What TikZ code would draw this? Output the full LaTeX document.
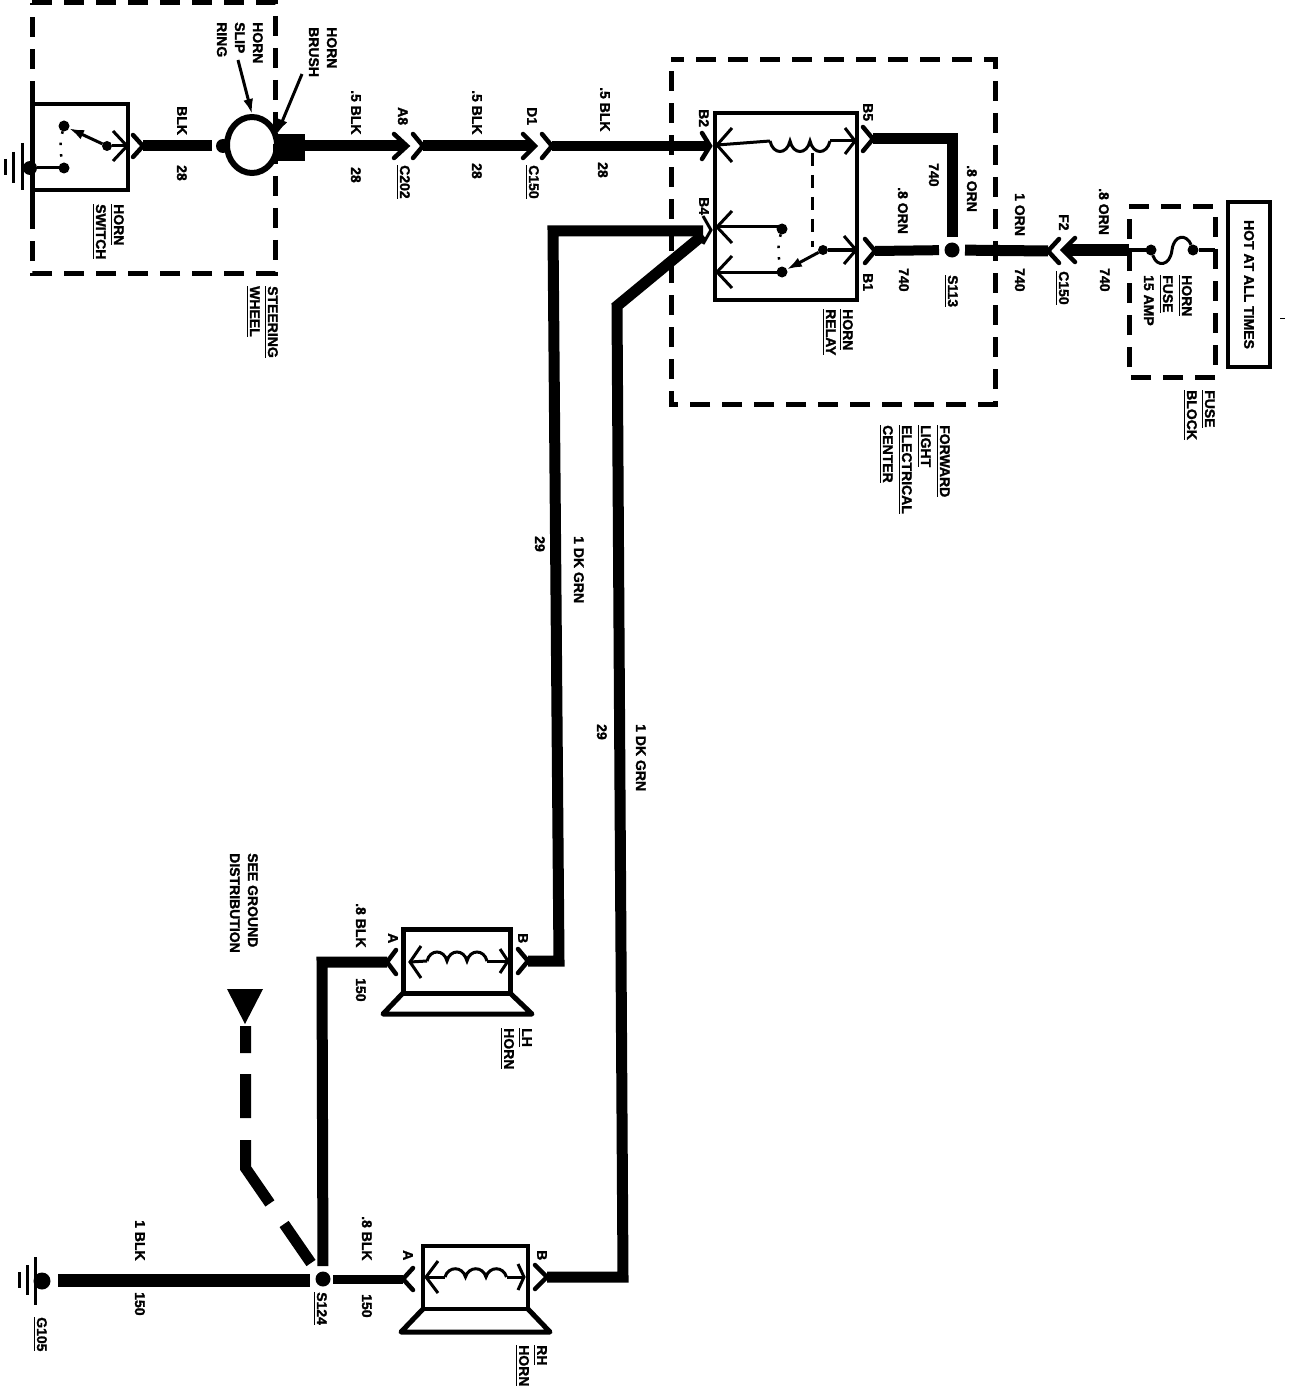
\documentclass[tikz,border=0pt]{standalone}
\usepackage{fontspec}
\setmainfont[BoldFeatures={FakeBold=1.6}]{Liberation Sans}
\usetikzlibrary{arrows.meta,shapes.geometric}
\tikzset{>={Latex[length=15pt,width=10pt]}}
% underlined label text
\newcommand{\ulbl}[1]{\setbox0\hbox{#1}\rlap{\rule[-3.5pt]{\wd0}{1.8pt}}\box0}
% two strokes meeting in a point: (name) (dx) (dy)
\newcommand{\prongs}[4][prong]{\draw[#1] ([shift={(#3,-#4)}]#2) -- (#2) -- ([shift={(#3,#4)}]#2);}
% three bumps of a coil: (start) (bump width) (bump depth)
\newcommand{\coil}[3]{\draw[thinwire] (#1) .. controls +(3,#3) and +(-3,#3) .. ++(#2,0)
    .. controls +(3,#3) and +(-3,#3) .. ++(#2,0)
    .. controls +(3,#3) and +(-3,#3) .. ++(#2,0);}
\begin{document}
\begin{tikzpicture}[x=1pt,y=-1pt]
    \tikzstyle{lbl}=[rotate=-90, anchor=north west, inner sep=0pt, align=left, font=\bfseries\fontsize{14}{18}\selectfont]
    \tikzstyle{wire}=[black, line width=11pt]
    \tikzstyle{thinwire}=[black, line width=3pt]
    \tikzstyle{prong}=[black, line width=4.5pt, line cap=round]
    \tikzstyle{tip}=[black, line width=3pt]
    \tikzstyle{box}=[draw=black, line width=4pt, rectangle, inner sep=0pt, outer sep=0pt]
    \tikzstyle{dashbox}=[black, line width=5pt, dash pattern=on 20pt off 12pt]
    \tikzstyle{dot}=[circle, fill=black, inner sep=0pt, outer sep=0pt, minimum size=11pt]
    \tikzstyle{splice}=[circle, fill=black, inner sep=0pt, outer sep=5.5pt, minimum size=15pt]
    \tikzstyle{bar}=[black, line width=3pt]
    \tikzstyle{dotline}=[black, line width=2.5pt, dash pattern=on 2.5pt off 9pt, bend right=14]
    \useasboundingbox (0,0) rectangle (1312,1388);

    % steering wheel
    \coordinate (wheelnw) at (32,3);
    \coordinate (wheelse) at (275,273);
    \draw[dashbox] (wheelnw) -| (wheelse) -| (wheelnw);
    \node[box, minimum width=96pt, minimum height=86pt] (switch) at (80,147) {};
    \draw[black, line width=5pt] (32,99) -- (32,212);
    \node[dot, minimum size=14pt] (swgnd) at (30,168) {};
    \draw[bar] (22,143) -- (22,190);
    \draw[bar] (13,152) -- (13,183);
    \draw[bar] (5,159) -- (5,175);
    \node[dot] (swbot) at (64,168) {};
    \node[dot] (swtop) at (64,126) {};
    \node[dot, minimum size=10pt] (swarm) at (107,146) {};
    \coordinate (swtip) at (127,146);
    \draw[thinwire] (swgnd) -- (swbot);
    \draw[thinwire, ->] (swarm) -- (swtop);
    \draw[thinwire] (swarm) -- (swtip);
    \prongs[tip]{swtip}{-14}{15}
    \draw[dotline] (swtop) to (swbot);

    \coordinate (swfork) at (143,146);
    \coordinate (ringwire) at (212,146);
    \draw[wire] (swfork) -- (ringwire);
    \prongs{swfork}{-10}{11}
    \node[dot, minimum size=14pt] (ringdot) at (223,146) {};
    \node[ellipse, draw=black, line width=6pt, inner sep=0pt, minimum width=50pt, minimum height=56pt] (ring) at (252,145) {};
    \node[rectangle, fill=black, inner sep=0pt, minimum width=28pt, minimum height=27pt] (brush) at (291,148) {};
    \coordinate (slipfrom) at (238,60);
    \coordinate (brushfrom) at (302,74);
    \draw[thinwire, ->] (slipfrom) -- (ring.north);
    \draw[thinwire, ->] (brushfrom) -- (brush.north west);

    % black wire to the relay
    \coordinate (a8tip) at (407,146);
    \coordinate (a8fork) at (423,146);
    \coordinate (d1tip) at (535,146);
    \coordinate (d1fork) at (552,146);
    \coordinate (b2tip) at (710,146);
    \draw[wire] (brush |- a8tip) -- ([xshift=-3pt]a8tip);
    \draw[wire] (a8fork) -- ([xshift=-3pt]d1tip);
    \draw[wire, line width=10pt] (d1fork) -- ([xshift=-3pt]b2tip);
    \prongs{a8tip}{-13}{12}
    \prongs{a8fork}{-10}{12}
    \prongs{d1tip}{-12}{12}
    \prongs{d1fork}{-10}{12}
    \prongs{b2tip}{-8}{13}

    % forward light electrical center
    \coordinate (fleccnw) at (671,60);
    \coordinate (fleccse) at (995,404);
    \draw[dashbox, dash phase=7pt] (fleccnw) -| (fleccse) -| (fleccnw);
    \node[box, minimum width=142pt, minimum height=186pt] (relay) at (786,206.5) {};
    \coordinate (b2in) at (717,145);
    \coordinate (coilin) at (770,141);
    \coordinate (coilout) at (830,141);
    \coordinate (b5in) at (855,141);
    \draw[thinwire] (b2in) -- (coilin);
    \coil{coilin}{20}{14}
    \draw[thinwire] (coilout) -- (b5in);
    \prongs[tip]{b2in}{15}{17}
    \prongs[tip]{b5in}{-10}{13}
    \node[dot] (relaytop) at (782,229) {};
    \node[dot] (relaybot) at (782,272) {};
    \node[dot, minimum size=10pt] (relayarm) at (823,250) {};
    \coordinate (b4in) at (717,227);
    \coordinate (b4low) at (717,272);
    \coordinate (b1in) at (856,250);
    \coordinate (coiltap) at (812,153);
    \coordinate (armtap) at (812,247);
    \draw[thinwire] (b4in) -- (b4in -| relaytop);
    \draw[thinwire] (b4low) -- (relaybot);
    \draw[thinwire] (relayarm) -- (b1in);
    \draw[thinwire, ->] (relayarm) -- (relaybot);
    \draw[dotline] (relaytop) to (relaybot);
    \draw[thinwire, dash pattern=on 13pt off 9pt] (coiltap) -- (armtap);
    \prongs[tip]{b4in}{15}{16}
    \prongs[tip]{b4low}{15}{16}
    \prongs[tip]{b1in}{-12}{14}

    % orange wires
    \node[splice] (s113) at (952,250) {};
    \coordinate (b5fork) at (873,139);
    \coordinate (b5turn) at (952,139);
    \coordinate (b1fork) at (875,251);
    \coordinate (f2fork) at (1048,251);
    \coordinate (f2tip) at (1063,250);
    \coordinate (fusewire) at (1129,250);
    \draw[wire] (b5fork) -- (b5turn) -- (s113);
    \draw[wire, line width=10pt] (b1fork) -- (s113);
    \draw[wire] (f2fork) -- (s113);
    \draw[wire] ([xshift=3pt]f2tip) -- (fusewire);
    \prongs{b5fork}{-10}{12}
    \prongs{b1fork}{-10}{12}
    \prongs{f2fork}{11}{12}
    \prongs{f2tip}{12}{12}

    % fuse block
    \coordinate (fusenw) at (1129,207);
    \coordinate (fusese) at (1215,377);
    \draw[dashbox] (fusenw) -| (fusese) -| (fusenw);
    \node[dot] (fusea) at (1151,250) {};
    \node[dot] (fuseb) at (1193,250) {};
    \coordinate (fusehot) at (1215,250);
    \draw[thinwire] (fusewire) -- (fusea);
    \draw[thinwire] (fuseb) -- (fusehot);
    \draw[thinwire] (fusea) .. controls (1157,268) and (1170,266) .. (1172,250) .. controls (1174,234) and (1187,234) .. (fuseb);
    \node[box, line width=3.5pt, rotate=-90, minimum width=165pt, minimum height=42pt, font=\bfseries\fontsize{14}{18}\selectfont] (hot) at (1249,284.5) {HOT AT ALL TIMES};
    \coordinate (marka) at (1280,318);
    \coordinate (markb) at (1285,318);
    \draw[black, line width=1pt] (marka) -- (markb);

    % wires down to the horns
    \coordinate (b4fork) at (711,230);
    \coordinate (b4a) at (703,231);
    \coordinate (b4b) at (703,235);
    \coordinate (leftturn) at (553,231);
    \coordinate (leftdown) at (559,961);
    \coordinate (lhb) at (528,961);
    \coordinate (rightturn) at (617,306);
    \coordinate (rightdown) at (623,1277);
    \coordinate (rhb) at (547,1277);
    \draw[wire] (b4a) -- (leftturn) -- (leftdown) -- (lhb);
    \draw[wire] (b4b) -- (rightturn) -- (rightdown) -- (rhb);
    \prongs[tip]{b4fork}{-8}{14}
    \prongs{lhb}{-10}{12}
    \prongs{rhb}{-12}{12}

    % lh horn
    \node[box, line width=5pt, minimum width=107pt, minimum height=64pt] (lhorn) at (456.5,961) {};
    \draw[black, line width=5pt, line join=round] (lhorn.south west) -- (383,1014) -- (532,1014) -- (lhorn.south east);
    \coordinate (lha) at (387,962);
    \coordinate (lhin) at (410,962);
    \coordinate (lhcoil) at (427,961);
    \coordinate (lhend) at (487,961);
    \coordinate (lhout) at (508,961);
    \draw[thinwire] (lhin) -- (lhcoil);
    \coil{lhcoil}{20}{-12}
    \draw[thinwire] (lhend) -- (lhout);
    \prongs[tip]{lhin}{11}{16}
    \prongs[tip]{lhout}{-8}{12}
    \prongs{lha}{9}{12}

    % rh horn
    \node[box, minimum width=105pt, minimum height=63pt] (rhorn) at (475.5,1277.5) {};
    \draw[black, line width=5pt, line join=round] (rhorn.south west) -- (401,1332) -- (550,1332) -- (rhorn.south east);
    \coordinate (rha) at (403,1279);
    \coordinate (rhin) at (426,1277);
    \coordinate (rhcoil) at (445,1277);
    \coordinate (rhend) at (507,1277);
    \coordinate (rhout) at (524,1277);
    \draw[thinwire] (rhin) -- (rhcoil);
    \coil{rhcoil}{20.5}{-11}
    \draw[thinwire] (rhend) -- (rhout);
    \prongs[tip]{rhin}{12}{16}
    \prongs[tip]{rhout}{-6}{13}
    \prongs{rha}{10}{11}

    % ground side
    \node[splice] (s124) at (323,1279) {};
    \node[dot, minimum size=17pt] (g105) at (42,1281) {};
    \coordinate (g105wire) at (58,1280.5);
    \coordinate (s124wire) at (310,1280.5);
    \coordinate (lhturn) at (322,962);
    \draw[wire, line width=12.5pt] (g105wire) -- (s124wire);
    \draw[wire] (lha) -- (lhturn) -- (s124);
    \draw[wire, line width=9pt, shorten <=-3pt] (s124) -- (rha);
    \draw[bar] (35,1257) -- (35,1305);
    \draw[bar] (27,1265) -- (27,1295);
    \draw[bar] (19,1272) -- (19,1288);
    \coordinate (gndtip) at (245,1024);
    \coordinate (gndleft) at (227,989);
    \coordinate (gndright) at (263,989);
    \coordinate (gndbend) at (245.5,1168);
    \coordinate (gndend) at (311,1263);
    \fill[black] (gndleft) -- (gndright) -- (gndtip) -- cycle;
    \draw[wire, dash pattern=on 27pt off 21pt on 44pt off 22pt on 71pt off 25pt on 60pt off 100pt] (245.5,1026) -- (gndbend) -- (gndend);

    % labels
    \node[lbl] (lslip) at (263,22) {HORN\\SLIP\\RING};
    \node[lbl] (lbrush) at (337,27) {HORN\\BRUSH};
    \node[lbl] (lswitch) at (124,204) {\ulbl{HORN}\\\ulbl{SWITCH}};
    \node[lbl] (lwheel) at (278,286) {\ulbl{STEERING}\\\ulbl{WHEEL}};
    \node[lbl] (l1) at (187,106) {BLK};
    \node[lbl] (l2) at (187,165) {28};
    \node[lbl] (l3) at (361,90) {.5 BLK};
    \node[lbl] (l4) at (361,167) {28};
    \node[lbl] (la8) at (408,107) {A8};
    \node[lbl] (lc202) at (410,165) {\ulbl{C202}};
    \node[lbl] (l5) at (482,90) {.5 BLK};
    \node[lbl] (l6) at (482,163) {28};
    \node[lbl] (ld1) at (537,107) {D1};
    \node[lbl] (lc150a) at (539,165) {\ulbl{C150}};
    \node[lbl] (l7) at (610,87) {.5 BLK};
    \node[lbl] (l8) at (608,162) {28};
    \node[lbl] (lb2) at (709,109) {B2};
    \node[lbl] (lb5) at (873,103) {B5};
    \node[lbl] (lb4) at (709,197) {B4};
    \node[lbl] (lb1) at (873,273) {B1};
    \node[lbl] (l9) at (939,163) {740};
    \node[lbl] (l10) at (977,165) {.8 ORN};
    \node[lbl] (l11) at (908,187) {.8 ORN};
    \node[lbl] (l12) at (909,268) {740};
    \node[lbl] (ls113) at (958,275) {\ulbl{S113}};
    \node[lbl] (lrelay) at (853,309) {\ulbl{HORN}\\[-1pt]\ulbl{RELAY}};
    \node[lbl] (lflec) at (950,425) {\ulbl{FORWARD}\\[1pt]\ulbl{LIGHT}\\[1pt]\ulbl{ELECTRICAL}\\[1pt]\ulbl{CENTER}};
    \node[lbl] (l13) at (1025,193) {1 ORN};
    \node[lbl] (l14) at (1025,268) {740};
    \node[lbl] (lf2) at (1069,214) {F2};
    \node[lbl] (lc150b) at (1069,271) {\ulbl{C150}};
    \node[lbl] (l15) at (1109,188) {.8 ORN};
    \node[lbl] (l16) at (1110,268) {740};
    \node[lbl] (lfuse) at (1192,275) {\ulbl{HORN}\\[1pt]\ulbl{FUSE}\\[1pt]15 AMP};
    \node[lbl] (lblock) at (1215,390) {\ulbl{FUSE}\\\ulbl{BLOCK}};
    \node[lbl] (l17) at (584,536) {1 DK GRN};
    \node[lbl] (l18) at (545,536) {29};
    \node[lbl] (l19) at (646,724) {1 DK GRN};
    \node[lbl] (l20) at (607,724) {29};
    \node[lbl] (lsee) at (258,853) {SEE GROUND\\DISTRIBUTION};
    \node[lbl] (l21) at (366,903) {.8 BLK};
    \node[lbl] (l22) at (366,978) {150};
    \node[lbl] (lah1) at (398,933) {A};
    \node[lbl] (lbh1) at (528,933) {B};
    \node[lbl] (llh) at (532,1028) {\ulbl{LH}\\\ulbl{HORN}};
    \node[lbl] (l23) at (145,1220) {1 BLK};
    \node[lbl] (l24) at (145,1292) {150};
    \node[lbl] (l25) at (372,1216) {.8 BLK};
    \node[lbl] (l26) at (372,1294) {150};
    \node[lbl] (ls124) at (327,1292) {\ulbl{S124}};
    \node[lbl] (lg105) at (47,1317) {\ulbl{G105}};
    \node[lbl] (lah2) at (413,1250) {A};
    \node[lbl] (lbh2) at (547,1250) {B};
    \node[lbl] (lrh) at (547,1345) {\ulbl{RH}\\\ulbl{HORN}};
\end{tikzpicture}
\end{document}
